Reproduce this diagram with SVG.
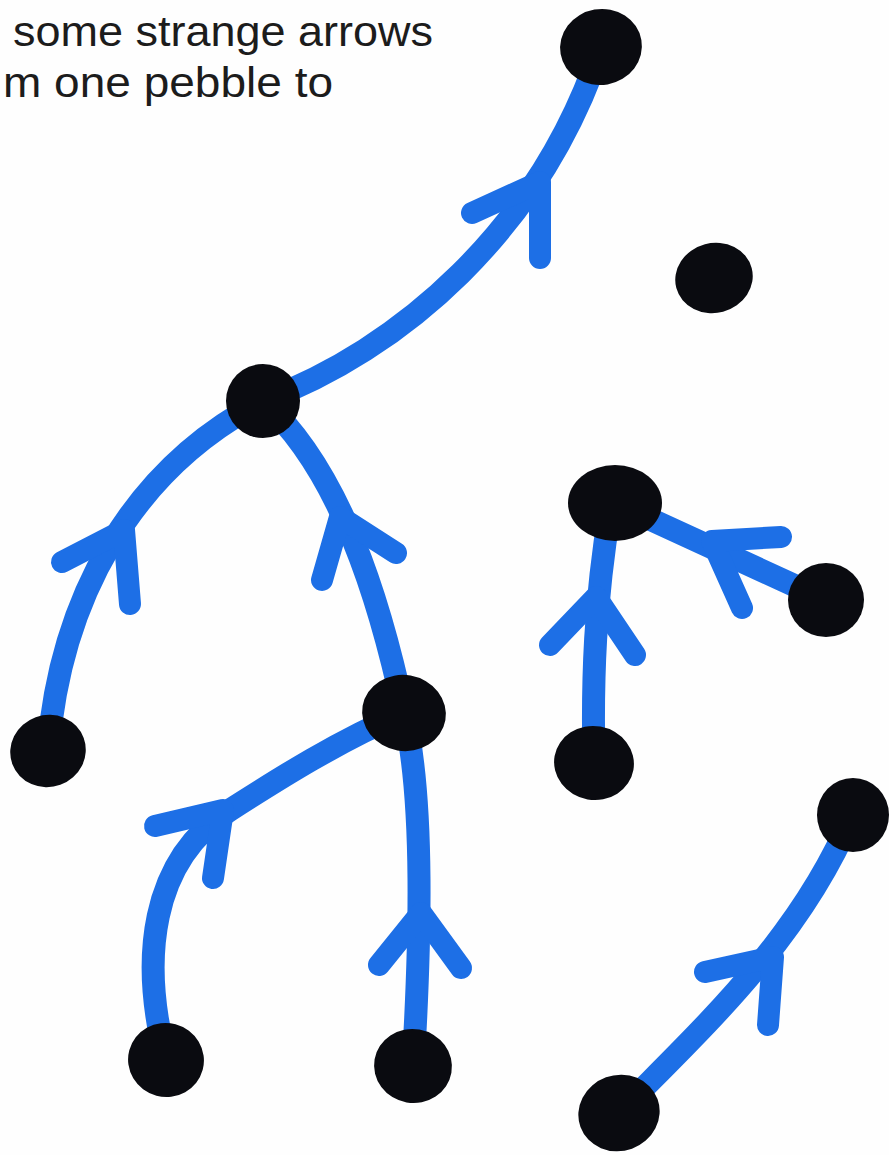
<svg xmlns="http://www.w3.org/2000/svg" width="889" height="1155" viewBox="0 0 889 1155">
<defs>
<style>
.txt{font-family:"Liberation Sans","Open Sans",sans-serif;font-size:42px;fill:#1c1c1c}
.edge{fill:none;stroke:#1d6fe6;stroke-width:23;stroke-linecap:round;stroke-linejoin:round}
.arm{fill:none;stroke:#1d6fe6;stroke-width:22;stroke-linecap:round;stroke-linejoin:round}
.pebble{fill:#0a0b10}
</style>
</defs>
<rect width="889" height="1155" fill="#fefefe"/>
<g id="caption">
<text class="txt" x="13" y="46" textLength="420" lengthAdjust="spacingAndGlyphs">some strange arrows</text>
<text class="txt" x="3" y="97" textLength="330" lengthAdjust="spacingAndGlyphs">m one pebble to</text>
</g>
<g id="connectors">
<path class="edge" d="M 263 401 C 400 350 540 230 601 47"/>
<polyline class="arm" points="472,213 540,182 540,258"/>
<path class="edge" d="M 48 751 C 60 600 130 470 263 401"/>
<polyline class="arm" points="62,562 124,530 130,604"/>
<path class="edge" d="M 404 713 C 380 600 340 470 263 401"/>
<polyline class="arm" points="322,580 340,517 396,553"/>
<path class="edge" d="M 166 1060 C 140 960 150 860 230 810 C 280 778 340 740 404 713"/>
<polyline class="arm" points="155,826 223,810 213,878"/>
<path class="edge" d="M 413 1068 C 420 950 425 800 404 713"/>
<polyline class="arm" points="379,965 421,913 461,968"/>
<path class="edge" d="M 594 763 C 592 680 595 600 610 510"/>
<polyline class="arm" points="550,645 596,597 635,655"/>
<path class="edge" d="M 826 600 L 615 503"/>
<polyline class="arm" points="781,537 712,541 742,608"/>
<path class="edge" d="M 619 1113 C 700 1030 800 940 852 815"/>
<polyline class="arm" points="705,972 773,957 768,1025"/>
</g>
<g id="pebble-top"><ellipse class="pebble" cx="601" cy="47" rx="41" ry="38" transform="rotate(-10 601 47)"/></g>
<g id="pebble-lone"><ellipse class="pebble" cx="714" cy="278" rx="39" ry="35" transform="rotate(-15 714 278)"/></g>
<g id="pebble-hub"><ellipse class="pebble" cx="263" cy="401" rx="37" ry="37"/></g>
<g id="pebble-left"><ellipse class="pebble" cx="48" cy="751" rx="38" ry="36" transform="rotate(-20 48 751)"/></g>
<g id="pebble-mid"><ellipse class="pebble" cx="404" cy="713" rx="42" ry="38" transform="rotate(10 404 713)"/></g>
<g id="pebble-rtop"><ellipse class="pebble" cx="615" cy="503" rx="47" ry="38"/></g>
<g id="pebble-rside"><ellipse class="pebble" cx="826" cy="600" rx="38" ry="37"/></g>
<g id="pebble-rbottom"><ellipse class="pebble" cx="594" cy="763" rx="40" ry="37" transform="rotate(10 594 763)"/></g>
<g id="pebble-brtop"><ellipse class="pebble" cx="853" cy="815" rx="36" ry="37"/></g>
<g id="pebble-brbottom"><ellipse class="pebble" cx="619" cy="1113" rx="41" ry="38" transform="rotate(-20 619 1113)"/></g>
<g id="pebble-bleft"><ellipse class="pebble" cx="166" cy="1060" rx="38" ry="37" transform="rotate(15 166 1060)"/></g>
<g id="pebble-bmid"><ellipse class="pebble" cx="413" cy="1066" rx="39" ry="37" transform="rotate(10 413 1066)"/></g>
</svg>
